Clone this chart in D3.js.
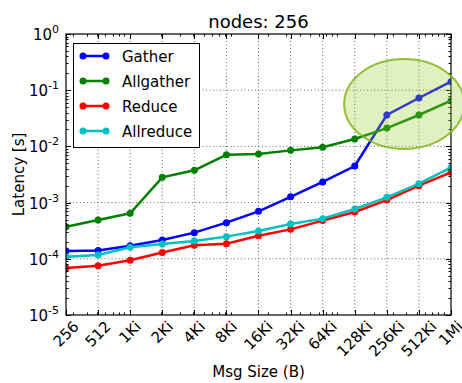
<!DOCTYPE html>
<html>
<head>
<meta charset="utf-8">
<script src="https://cdn.jsdelivr.net/npm/d3@7"></script>
<style>
  body { margin: 0; background: #fff; }
  text { font-family: "DejaVu Sans", sans-serif; fill: #000; }
</style>
</head>
<body>
<div id="chart"></div>
<script>
// message sizes in bytes and their tick labels
var sizes = [256, 512, 1024, 2048, 4096, 8192, 16384, 32768, 65536, 131072, 262144, 524288, 1048576];
var sizeLabels = ["256", "512", "1Ki", "2Ki", "4Ki", "8Ki", "16Ki", "32Ki", "64Ki", "128Ki", "256Ki", "512Ki", "1Mi"];

// latency in seconds
var gather    = [1.38e-4, 1.40e-4, 1.71e-4, 2.16e-4, 2.92e-4, 4.4e-4, 7.0e-4, 1.27e-3, 2.33e-3, 4.48e-3, 0.0362, 0.0726, 0.142];
var allgather = [3.73e-4, 4.9e-4, 6.46e-4, 2.82e-3, 3.76e-3, 7.1e-3, 7.3e-3, 8.5e-3, 9.7e-3, 0.01355, 0.0212, 0.0362, 0.065];
var reduce    = [6.85e-5, 7.55e-5, 9.4e-5, 1.29e-4, 1.74e-4, 1.86e-4, 2.58e-4, 3.34e-4, 4.78e-4, 6.8e-4, 1.11e-3, 2.0e-3, 3.46e-3];
var allreduce = [1.09e-4, 1.17e-4, 1.6e-4, 1.83e-4, 2.07e-4, 2.48e-4, 3.12e-4, 4.16e-4, 5.18e-4, 7.7e-4, 1.24e-3, 2.17e-3, 4.18e-3];

var seriesNames = ["Gather", "Allgather", "Reduce", "Allreduce"];
var seriesValues = [gather, allgather, reduce, allreduce];
var seriesColors = ["#0000ff", "#008000", "#ff0000", "#00bfbf"];

var yTickExps = [0, -1, -2, -3, -4, -5];

// highlight ellipse, in data units (center size, center latency, half-width in log2, half-height in decades)
var highlight = {cx: Math.pow(2, 18.54), cy: Math.pow(10, -1.246), rxLog2: 1.87, ryDec: 0.8};

var width = 462, height = 383;
var margin = {top: 34, right: 11, bottom: 68, left: 66};

var svg = d3.select("#chart").append("svg")
    .attr("width", width)
    .attr("height", height);

var x = d3.scaleLog().base(2)
    .domain([256, 1048576])
    .range([margin.left, width - margin.right]);

var y = d3.scaleLog()
    .domain([1e-5, 1])
    .range([height - margin.bottom, margin.top]);

var x0 = x.range()[0], x1 = x.range()[1];
var yb = y.range()[0], yt = y.range()[1];

svg.append("clipPath").attr("id", "plotclip")
  .append("rect")
    .attr("x", x0).attr("y", yt)
    .attr("width", x1 - x0).attr("height", yb - yt);

// grid
var grid = svg.append("g")
    .attr("stroke", "#000")
    .attr("stroke-width", 0.8)
    .attr("stroke-dasharray", "1,2.5")
    .attr("opacity", 0.75);

grid.selectAll("line.gx").data(sizes.slice(1, -1)).enter().append("line")
    .attr("x1", function(d) { return x(d); })
    .attr("x2", function(d) { return x(d); })
    .attr("y1", yb).attr("y2", yt);

grid.selectAll("line.gy").data(yTickExps.slice(1, -1)).enter().append("line")
    .attr("y1", function(d) { return y(Math.pow(10, d)); })
    .attr("y2", function(d) { return y(Math.pow(10, d)); })
    .attr("x1", x0).attr("x2", x1);

// series
var line = d3.line()
    .x(function(d, i) { return x(sizes[i]); })
    .y(function(d) { return y(d); });

var plot = svg.append("g").attr("clip-path", "url(#plotclip)");

seriesValues.forEach(function(vals, s) {
  plot.append("path")
      .datum(vals)
      .attr("fill", "none")
      .attr("stroke", seriesColors[s])
      .attr("stroke-width", 2.5)
      .attr("d", line);
  plot.selectAll("circle.s" + s).data(vals).enter().append("circle")
      .attr("cx", function(d, i) { return x(sizes[i]); })
      .attr("cy", function(d) { return y(d); })
      .attr("r", 3.5)
      .attr("fill", seriesColors[s]);
});

// ticks on all four sides
var minorX = [];
for (var e = 2; e <= 6; e++) {
  for (var m = 2; m <= 9; m++) {
    var v = m * Math.pow(10, e);
    if (v > 256 && v < 1048576) minorX.push(v);
  }
}
var minorY = [];
for (var e2 = -5; e2 < 0; e2++) {
  for (var m2 = 2; m2 <= 9; m2++) minorY.push(m2 * Math.pow(10, e2));
}

var ticks = svg.append("g").attr("stroke", "#000").attr("stroke-width", 1);

function xTicks(vals, len) {
  vals.forEach(function(v) {
    var px = Math.round(x(v)) + 0.5;
    ticks.append("line").attr("x1", px).attr("x2", px).attr("y1", yb).attr("y2", yb - len);
    ticks.append("line").attr("x1", px).attr("x2", px).attr("y1", yt).attr("y2", yt + len);
  });
}
function yTicks(vals, len) {
  vals.forEach(function(v) {
    var py = Math.round(y(v)) + 0.5;
    ticks.append("line").attr("y1", py).attr("y2", py).attr("x1", x0).attr("x2", x0 + len);
    ticks.append("line").attr("y1", py).attr("y2", py).attr("x1", x1).attr("x2", x1 - len);
  });
}
xTicks(sizes, 5);
xTicks(minorX, 2.5);
yTicks(yTickExps.map(function(d) { return Math.pow(10, d); }), 5);
yTicks(minorY, 2.5);

// frame
svg.append("rect")
    .attr("x", x0).attr("y", yt)
    .attr("width", x1 - x0).attr("height", yb - yt)
    .attr("fill", "none")
    .attr("stroke", "#000")
    .attr("stroke-width", 1.2);

// highlight ellipse drawn over everything, semi transparent
var ex = x(highlight.cx), ey = y(highlight.cy);
svg.append("ellipse")
    .attr("cx", ex)
    .attr("cy", ey)
    .attr("rx", x(highlight.cx * Math.pow(2, highlight.rxLog2)) - ex)
    .attr("ry", ey - y(highlight.cy * Math.pow(10, highlight.ryDec)))
    .attr("fill", "#9acd32")
    .attr("fill-opacity", 0.3)
    .attr("stroke", "#7fb51c")
    .attr("stroke-opacity", 0.85)
    .attr("stroke-width", 2);

// x tick labels, rotated 45 degrees, centred under the tick
svg.selectAll("text.xl").data(sizeLabels).enter().append("text")
    .attr("class", "xl")
    .attr("font-size", "15px")
    .attr("text-anchor", "middle")
    .attr("dominant-baseline", "central")
    .text(function(d) { return d; })
    .attr("transform", function(d, i) {
      var w = this.getComputedTextLength();
      var bh = (w + 11) * Math.SQRT1_2;
      return "translate(" + x(sizes[i]) + "," + (yb + 5 + bh / 2) + ") rotate(-45)";
    });

// y tick labels 10^n
yTickExps.forEach(function(d) {
  var t = svg.append("text")
      .attr("x", x0 - 7)
      .attr("y", y(Math.pow(10, d)) + 6)
      .attr("text-anchor", "end")
      .attr("font-size", "15px");
  t.append("tspan").text("10");
  t.append("tspan").attr("dy", -7).attr("font-size", "11px").text(d === 0 ? "0" : String(d));
});

// axis labels and title
svg.append("text")
    .attr("x", (x0 + x1) / 2)
    .attr("y", 377)
    .attr("text-anchor", "middle")
    .attr("font-size", "15px")
    .text("Msg Size (B)");

svg.append("text")
    .attr("transform", "translate(24," + (yt + yb) / 2 + ") rotate(-90)")
    .attr("text-anchor", "middle")
    .attr("font-size", "15px")
    .text("Latency [s]");

svg.append("text")
    .attr("x", (x0 + x1) / 2)
    .attr("y", 28)
    .attr("text-anchor", "middle")
    .attr("font-size", "18px")
    .text("nodes: 256");

// legend
var legend = svg.append("g");
legend.append("rect")
    .attr("x", 73.5).attr("y", 43.5)
    .attr("width", 126).attr("height", 104)
    .attr("fill", "#fff")
    .attr("stroke", "#000")
    .attr("stroke-width", 1);

seriesNames.forEach(function(name, i) {
  var ly = 56 + i * 25;
  legend.append("line")
      .attr("x1", 83).attr("x2", 106)
      .attr("y1", ly).attr("y2", ly)
      .attr("stroke", seriesColors[i])
      .attr("stroke-width", 2.5);
  [83, 106].forEach(function(cx) {
    legend.append("circle").attr("cx", cx).attr("cy", ly).attr("r", 3.5).attr("fill", seriesColors[i]);
  });
  legend.append("text")
      .attr("x", 122)
      .attr("y", ly + 5.5)
      .attr("font-size", "15px")
      .text(name);
});
</script>
</body>
</html>
